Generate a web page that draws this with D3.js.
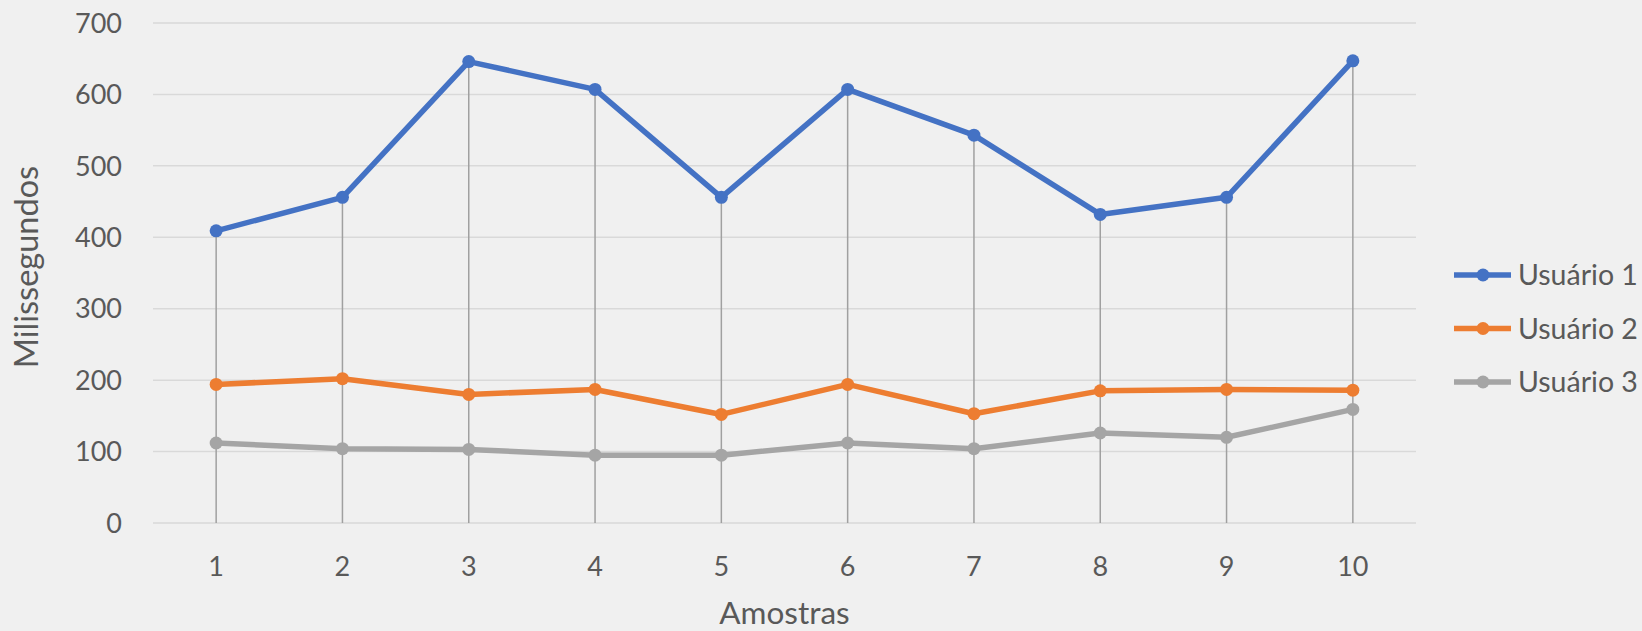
<!DOCTYPE html>
<html>
<head>
<meta charset="utf-8">
<script src="https://cdn.jsdelivr.net/npm/d3@7"></script>
<style>
  body { margin: 0; background: #f0f0f0; }
  svg { display: block; }
  text { font-family: Lato, "Open Sans", sans-serif; fill: #595959; }
</style>
</head>
<body>
<svg id="chart" width="1642" height="631"></svg>
<script>
// data
const samples = ["1", "2", "3", "4", "5", "6", "7", "8", "9", "10"];
const user1 = [409, 456, 646, 607, 456, 607, 543, 432, 456, 647];
const user2 = [194, 202, 180, 187, 152, 194, 153, 185, 187, 186];
const user3 = [112, 104, 103, 95, 95, 112, 104, 126, 120, 159];
const seriesNames = ["Usuário 1", "Usuário 2", "Usuário 3"];
const colors = ["#4472c4", "#ed7d31", "#a5a5a5"];
const yTicks = [0, 100, 200, 300, 400, 500, 600, 700];

const series = [user1, user2, user3].map((vals, i) => ({
  name: seriesNames[i],
  color: colors[i],
  values: vals.map((v, j) => ({ x: samples[j], y: v }))
}));

const svg = d3.select("#chart");
const margin = { left: 153, right: 226, top: 23, bottom: 108 };
const width = +svg.attr("width");
const height = +svg.attr("height");

const x = d3.scaleBand()
  .domain(samples)
  .range([margin.left, width - margin.right]);
const y = d3.scaleLinear()
  .domain([0, 700])
  .range([height - margin.bottom, margin.top]);
const cx = (d) => x(d) + x.bandwidth() / 2;

// gridlines
svg.append("g")
  .selectAll("line")
  .data(yTicks)
  .enter()
  .append("line")
  .attr("x1", margin.left)
  .attr("x2", width - margin.right)
  .attr("y1", (d) => y(d))
  .attr("y2", (d) => y(d))
  .attr("stroke", "#d9d9d9")
  .attr("stroke-width", 1.5);

// y tick labels
svg.append("g")
  .selectAll("text")
  .data(yTicks)
  .enter()
  .append("text")
  .attr("x", 122)
  .attr("y", (d) => y(d))
  .attr("dy", "0.36em")
  .attr("text-anchor", "end")
  .style("font-size", "27px")
  .text((d) => d);

// x tick labels
svg.append("g")
  .selectAll("text")
  .data(samples)
  .enter()
  .append("text")
  .attr("x", (d) => cx(d))
  .attr("y", 576)
  .attr("text-anchor", "middle")
  .style("font-size", "27px")
  .text((d) => d);

// drop lines from highest point to the axis
svg.append("g")
  .selectAll("line")
  .data(samples)
  .enter()
  .append("line")
  .attr("x1", (d) => cx(d))
  .attr("x2", (d) => cx(d))
  .attr("y1", (d, i) => y(Math.max(user1[i], user2[i], user3[i])))
  .attr("y2", y(0))
  .attr("stroke", "#a0a0a0")
  .attr("stroke-width", 1.5);

const line = d3.line()
  .x((d) => cx(d.x))
  .y((d) => y(d.y));

// draw series, last one first so blue ends on top
series.slice().reverse().forEach((s) => {
  svg.append("path")
    .datum(s.values)
    .attr("fill", "none")
    .attr("stroke", s.color)
    .attr("stroke-width", 5.5)
    .attr("stroke-linejoin", "round")
    .attr("d", line);
  svg.append("g")
    .selectAll("circle")
    .data(s.values)
    .enter()
    .append("circle")
    .attr("cx", (d) => cx(d.x))
    .attr("cy", (d) => y(d.y))
    .attr("r", 6.5)
    .attr("fill", s.color);
});

// axis titles
svg.append("text")
  .attr("transform", "translate(38,267) rotate(-90)")
  .attr("text-anchor", "middle")
  .style("font-size", "32.5px")
  .text("Milissegundos");

svg.append("text")
  .attr("x", (margin.left + width - margin.right) / 2)
  .attr("y", 624)
  .attr("text-anchor", "middle")
  .style("font-size", "31.5px")
  .text("Amostras");

// legend
const legend = svg.append("g")
  .selectAll("g")
  .data(series)
  .enter()
  .append("g")
  .attr("transform", (d, i) => "translate(1454," + (275 + i * 53.5) + ")");
legend.append("line")
  .attr("x1", 0)
  .attr("x2", 57)
  .attr("stroke", (d) => d.color)
  .attr("stroke-width", 5.5);
legend.append("circle")
  .attr("cx", 29)
  .attr("r", 6.5)
  .attr("fill", (d) => d.color);
legend.append("text")
  .attr("x", 64)
  .attr("dy", "0.36em")
  .style("font-size", "28.5px")
  .text((d) => d.name);
</script>
</body>
</html>
